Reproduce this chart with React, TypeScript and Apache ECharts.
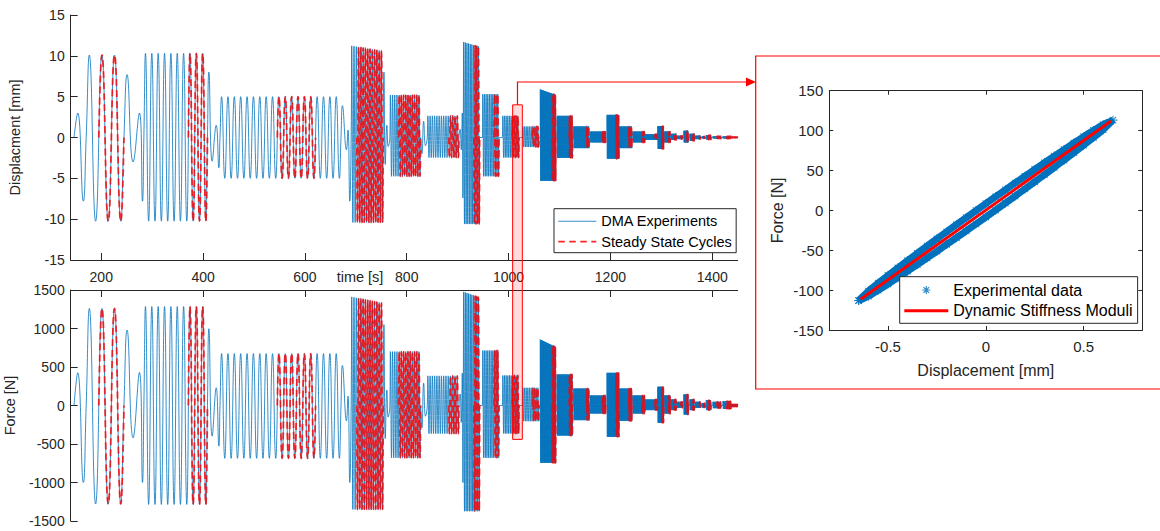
import React, { useEffect, useRef } from 'react';
import * as echarts from 'echarts';

const FONT = '"Liberation Sans", Arial, Helvetica, sans-serif';
const INK = '#262626';
const BLUE = '#0072BD';
const RED = '#ff0000';

// ---------- time axis ----------
const timeMin = 140;
const timeMax = 1450;
const timeTicks = [200, 400, 600, 800, 1000, 1200, 1400];

// ---------- isolated extrema between the test blocks: time [s], displacement [mm], force [N] ----------
const freeT = [146.5, 153.8, 164.8, 250.8, 262.6, 275.0, 281.0, 411.4, 417.9, 425.8, 431.0, 673.7, 681.6, 684.6, 688.1, 755.2, 757.8, 761.0, 763.5, 829.8, 833.2, 836.8, 904.8, 907.0, 909.0, 910.3];
const freeD = [0, 3.0, -7.8, 7.7, -3.0, 3.0, -7.8, 8.0, -2.9, 1.5, -3.7, 3.9, -1.5, 0.9, -7.8, 8.0, -3.3, 1.5, -1.1, -2.0, 2.0, -1.0, 1.0, -1.5, 3.0, -7.4];
const freeF = [0, 425, -1000, 980, -420, 430, -1000, 997, -398, 230, -528, 520, -200, 120, -1000, 1050, -430, 200, -150, -290, 290, -140, 150, -220, 420, -1000];

// ---------- sinusoidal test blocks ----------
const blkStart = [170.4, 283.7, 433.2, 690.8, 766.8, 840.3, 911.0, 948.5, 987.8, 1027.2, 1062.0, 1094.8, 1127.5, 1160.0, 1193.0, 1217.4, 1243.6, 1267.9, 1292.8, 1305.9, 1319.0, 1330.2, 1344.0, 1355.8, 1366.5, 1379.4, 1387.9, 1401.0, 1420.7, 1437.5];
const blkEnd = [244.6, 408.6, 670.9, 753.7, 827.2, 902.6, 943.2, 981.3, 1020.6, 1060.0, 1092.8, 1125.6, 1158.4, 1191.0, 1217.0, 1242.3, 1267.6, 1292.5, 1304.6, 1317.7, 1329.5, 1342.0, 1353.0, 1365.0, 1377.0, 1386.0, 1397.7, 1417.4, 1437.0, 1450.0];
const blkCycles = [3, 10, 19, 14, 14, 14, 10, 10, 10, 10, 24, 24, 24, 24, 20, 20, 20, 20, 12, 12, 10, 10, 10, 10, 10, 8, 8, 12, 12, 14];
const blkDispHi = [10.1, 10.3, 5.0, 10.9, 5.2, 2.65, 11.4, 5.3, 2.65, 1.35, 5.55, 2.65, 1.35, 0.73, 2.77, 1.35, 0.73, 0.4, 1.4, 0.73, 0.45, 0.22, 0.82, 0.45, 0.22, 0.12, 0.3, 0.16, 0.16, 0.06];
const blkDispLo = [-10.25, -10.24, -5.0, -10.4, -4.75, -2.45, -10.6, -4.75, -2.45, -1.17, -5.3, -2.5, -1.3, -0.6, -2.6, -1.3, -0.6, -0.3, -1.4, -0.6, -0.3, -0.2, -0.6, -0.4, -0.2, -0.1, -0.25, -0.14, -0.14, -0.05];
const blkForceHi = [1260, 1285, 675, 1370, 700, 385, 1440, 714, 390, 230, 808, 403, 220, 130, 424, 220, 130, 78, 243, 130, 78, 48, 143, 78, 48, 30, 70, 48, 58, 15];
const blkForceLo = [-1280, -1285, -686, -1350, -680, -365, -1373, -680, -364, -204, -745, -390, -190, -104, -407, -200, -104, -60, -225, -104, -60, -30, -117, -60, -30, -25, -60, -35, -45, -15];
const blkFade = [0, 0, 0, 0.06, 0, 0, 0.05, 0, 0, 0, 0.12, 0, 0, 0, 0, 0, 0, 0, 0, 0, 0, 0, 0, 0, 0, 0, 0, 0, 0, 0];
const blkRedFrom = [195.2, 371.1, 545.8, 702.0, 784.1, 882.6, 931.9, 971.5, 1007.5, 1046.9, 1086.0, 1119.0, 1153.1, 1184.6, 1210.8, 1235.8, 1262.0, 1287.6, 1301.3, 1314.5, 1325.6, 1338.7, 1350.5, 1361.7, 1374.8, 1383.0, 1392.0, 1409.0, 1428.0, 1437.5];
const blkRedTo = [244.6, 408.6, 620.9, 753.7, 827.2, 902.6, 943.2, 981.3, 1020.6, 1060.0, 1092.8, 1125.6, 1158.4, 1191.0, 1217.0, 1242.3, 1267.6, 1292.5, 1304.6, 1317.7, 1329.5, 1342.0, 1353.0, 1365.0, 1377.0, 1386.0, 1397.7, 1417.4, 1437.0, 1450.0];

// ---------- zoomed window (highlight) ----------
const zoomWindow = [1008, 1027];
const zoomDispTop = 4;
const zoomForceBottom = -440;

// ---------- inset: hysteresis loop ----------
const loopX = [-0.65, -0.6, -0.55, -0.5, -0.45, -0.4, -0.35, -0.3, -0.25, -0.2, -0.15, -0.1, -0.05, 0, 0.05, 0.1, 0.15, 0.2, 0.25, 0.3, 0.35, 0.4, 0.45, 0.5, 0.55, 0.6, 0.65, 0.6, 0.55, 0.5, 0.45, 0.4, 0.35, 0.3, 0.25, 0.2, 0.15, 0.1, 0.05, 0, -0.05, -0.1, -0.15, -0.2, -0.25, -0.3, -0.35, -0.4, -0.45, -0.5, -0.55, -0.6, -0.65];
const loopF = [-113.1, -101.2, -91.2, -81.6, -72.2, -63.0, -53.8, -44.7, -35.7, -26.8, -17.9, -9.1, -0.3, 8.4, 17.1, 25.7, 34.3, 42.8, 51.3, 59.7, 68.0, 76.2, 84.4, 92.4, 100.2, 107.6, 113.1, 101.2, 91.2, 81.6, 72.2, 63.0, 53.8, 44.7, 35.7, 26.8, 17.9, 9.1, 0.3, -8.4, -17.1, -25.7, -34.3, -42.8, -51.3, -59.7, -68.0, -76.2, -84.4, -92.4, -100.2, -107.6, -113.1];
const stiffX = [-0.64, 0.64];
const stiffF = [-111.5, 112];
const insetXTicks = [-0.5, 0, 0.5];

const ASTERISK = 'path://M5 0L5 10M0 5L10 5M1.46 1.46L8.54 8.54M8.54 1.46L1.46 8.54';

function extremum(b: number, k: number, m: number, force: boolean): number {
  const hi = force ? blkForceHi[b] : blkDispHi[b];
  const lo = force ? blkForceLo[b] : blkDispLo[b];
  const f = blkFade[b];
  const s = 1 + f / 2 - (f * k) / Math.max(1, m - 1);
  return k % 2 === 0 ? hi * s : lo;
}

function buildSignal(force: boolean): any[] {
  const pts: [number, number][] = [];
  for (let i = 0; i < freeT.length; i++) pts.push([freeT[i], force ? freeF[i] : freeD[i]]);
  for (let b = 0; b < blkStart.length; b++) {
    const ts = blkStart[b];
    const te = blkEnd[b];
    const m = blkCycles[b] * 2;
    const h = (te - ts) / m;
    pts.push([ts, 0]);
    for (let k = 0; k < m; k++) pts.push([ts + (k + 0.5) * h, extremum(b, k, m, force)]);
    pts.push([te, 0]);
  }
  pts.sort((a, c) => a[0] - c[0]);
  return pts;
}

function buildRed(force: boolean): any[] {
  const pts: any[] = [];
  for (let b = 0; b < blkStart.length; b++) {
    const ts = blkStart[b];
    const te = blkEnd[b];
    const m = blkCycles[b] * 2;
    const h = (te - ts) / m;
    const k0 = Math.max(0, Math.round((blkRedFrom[b] - ts) / h));
    const k1 = Math.min(m, Math.round((blkRedTo[b] - ts) / h));
    if (k1 <= k0) continue;
    pts.push([ts + k0 * h, 0]);
    for (let k = k0; k < k1; k++) pts.push([ts + (k + 0.5) * h, extremum(b, k, m, force)]);
    pts.push([ts + k1 * h, 0]);
    pts.push([ts + k1 * h + 0.01, '-']);
  }
  return pts;
}

const numFmt = (v: number) => String(v);

export default function App() {
  const ref = useRef<HTMLDivElement>(null);

  useEffect(() => {
    if (!ref.current) return;
    const chart = echarts.init(ref.current, null, { renderer: 'svg' });

    const tickLabel = { fontFamily: FONT, fontSize: 14, color: INK };
    const nameStyle = { fontFamily: FONT, fontSize: 14.5, color: INK };
    const axLine = { show: true, onZero: false, lineStyle: { color: INK, width: 1 } };
    const tick = (len: number, extra: any = {}) => ({ show: true, inside: true, length: len, lineStyle: { color: INK, width: 1 }, ...extra });

    const blueLine = { color: BLUE, width: 0.8 };
    const redLine = { color: RED, width: 1.8, type: [7, 4] as any, opacity: 0.8 };
    const loopData = loopX.map((x, i) => [x, loopF[i]]);

    const option: any = {
      animation: false,
      backgroundColor: '#ffffff',
      textStyle: { fontFamily: FONT },
      grid: [
        { left: 70.7, top: 15, width: 667, height: 245, outerBoundsMode: 'none' },
        { left: 70.7, top: 290, width: 667, height: 231, outerBoundsMode: 'none' },
        { left: 829.3, top: 90.7, width: 313, height: 239.3, outerBoundsMode: 'none' },
      ],
      xAxis: [
        {
          type: 'value', gridIndex: 0, min: timeMin, max: timeMax, position: 'bottom', splitNumber: 7,
          axisLine: axLine, axisTick: tick(7, { customValues: timeTicks }),
          axisLabel: { show: false }, splitLine: { show: false },
        },
        {
          type: 'value', gridIndex: 1, min: timeMin, max: timeMax, position: 'top', splitNumber: 7,
          axisLine: axLine, axisTick: tick(7, { customValues: timeTicks }),
          axisLabel: { show: true, customValues: timeTicks, margin: 6, formatter: numFmt, ...tickLabel },
          splitLine: { show: false },
        },
        {
          type: 'value', gridIndex: 2, min: -0.8, max: 0.8, position: 'bottom',
          axisLine: axLine, axisTick: tick(4, { customValues: insetXTicks }),
          axisLabel: { show: true, customValues: insetXTicks, margin: 9, formatter: numFmt, ...tickLabel, fontSize: 15 },
          splitLine: { show: false },
          name: 'Displacement [mm]', nameLocation: 'middle', nameGap: 32,
          nameTextStyle: { ...nameStyle, fontSize: 16 },
        },
        {
          type: 'value', gridIndex: 2, min: -0.8, max: 0.8, position: 'top',
          axisLine: axLine, axisTick: tick(4, { customValues: insetXTicks }),
          axisLabel: { show: false }, splitLine: { show: false },
        },
      ],
      yAxis: [
        {
          type: 'value', gridIndex: 0, min: -15, max: 15, interval: 5,
          axisLine: axLine, axisTick: tick(7),
          axisLabel: { margin: 6, formatter: numFmt, ...tickLabel }, splitLine: { show: false },
          name: 'Displacment [mm]', nameLocation: 'middle', nameGap: 48, nameTextStyle: nameStyle,
        },
        {
          type: 'value', gridIndex: 1, min: -1500, max: 1500, interval: 500,
          axisLine: axLine, axisTick: tick(7),
          axisLabel: { margin: 6, formatter: numFmt, ...tickLabel }, splitLine: { show: false },
          name: 'Force [N]', nameLocation: 'middle', nameGap: 48, nameTextStyle: nameStyle,
        },
        {
          type: 'value', gridIndex: 2, min: -150, max: 150, interval: 50, position: 'left',
          axisLine: axLine, axisTick: tick(4),
          axisLabel: { margin: 6, formatter: numFmt, ...tickLabel, fontSize: 15 }, splitLine: { show: false },
          name: 'Force [N]', nameLocation: 'middle', nameGap: 44,
          nameTextStyle: { ...nameStyle, fontSize: 16 },
        },
        {
          type: 'value', gridIndex: 2, min: -150, max: 150, interval: 50, position: 'right',
          axisLine: axLine, axisTick: tick(4),
          axisLabel: { show: false }, splitLine: { show: false },
        },
      ],
      legend: [
        {
          orient: 'vertical', left: 554, top: 208.7,
          padding: [5, 4.3, 3.5, 4.3], itemGap: 5.5, itemWidth: 38, itemHeight: 14,
          backgroundColor: '#ffffff', borderColor: INK, borderWidth: 1, borderRadius: 0,
          selectedMode: false,
          textStyle: { fontFamily: FONT, fontSize: 14.5, color: '#000000' },
          data: [
            { name: 'DMA Experiments', icon: 'path://M0 0H38V1.1H0Z', itemStyle: { color: '#3a8ccc', borderWidth: 0 } },
            {
              name: 'Steady State Cycles',
              icon: 'path://M0 0H6.5V1.7H0Z M11 0H17.5V1.7H11Z M22 0H28.5V1.7H22Z M33 0H38V1.7H33Z',
              itemStyle: { color: 'rgba(255,0,0,0.85)', borderWidth: 0 },
            },
          ],
        },
        {
          orient: 'vertical', left: 899.7, top: 276.7,
          padding: [5.3, 5, 4.6, 4.6], itemGap: 4.7, itemWidth: 44, itemHeight: 8,
          backgroundColor: '#ffffff', borderColor: INK, borderWidth: 1, borderRadius: 0,
          selectedMode: false,
          textStyle: { fontFamily: FONT, fontSize: 16, color: '#000000' },
          data: [
            { name: 'Experimental data', icon: ASTERISK, itemStyle: { color: BLUE, borderColor: BLUE, borderWidth: 1.2 } },
            { name: 'Dynamic Stiffness Moduli', icon: 'path://M0 0H44V3H0Z', itemStyle: { color: RED, borderWidth: 0 } },
          ],
        },
      ],
      series: [
        {
          type: 'line', name: 'DMA Experiments', xAxisIndex: 0, yAxisIndex: 0,
          data: buildSignal(false), symbol: 'none', smooth: 0.5, lineStyle: blueLine, z: 2, silent: true,
        },
        {
          type: 'line', name: 'Steady State Cycles', xAxisIndex: 0, yAxisIndex: 0,
          data: buildRed(false), symbol: 'none', smooth: 0.5, connectNulls: false, lineStyle: redLine, z: 3, silent: true,
        },
        {
          type: 'line', name: 'DMA Experiments', xAxisIndex: 1, yAxisIndex: 1,
          data: buildSignal(true), symbol: 'none', smooth: 0.5, lineStyle: blueLine, z: 2, silent: true,
        },
        {
          type: 'line', name: 'Steady State Cycles', xAxisIndex: 1, yAxisIndex: 1,
          data: buildRed(true), symbol: 'none', smooth: 0.5, connectNulls: false, lineStyle: redLine, z: 3, silent: true,
        },
        {
          type: 'line', name: 'loop band', xAxisIndex: 2, yAxisIndex: 2,
          data: loopData, symbol: 'none', smooth: 0.3,
          lineStyle: { color: BLUE, width: 7 }, z: 2, silent: true,
        },
        {
          type: 'scatter', name: 'Experimental data', xAxisIndex: 2, yAxisIndex: 2,
          data: loopData, symbol: ASTERISK, symbolSize: 9,
          itemStyle: { color: BLUE, borderColor: BLUE, borderWidth: 1.1 }, z: 3, silent: true,
        },
        {
          type: 'line', name: 'Dynamic Stiffness Moduli', xAxisIndex: 2, yAxisIndex: 2,
          data: stiffX.map((x, i) => [x, stiffF[i]]), symbol: 'none',
          lineStyle: { color: RED, width: 3 }, z: 4, silent: true,
        },
      ],
    };

    chart.setOption(option);

    const a = chart.convertToPixel({ xAxisIndex: 0, yAxisIndex: 0 }, [zoomWindow[0], zoomDispTop]) as number[];
    const b = chart.convertToPixel({ xAxisIndex: 0, yAxisIndex: 0 }, [zoomWindow[1], zoomDispTop]) as number[];
    const c = chart.convertToPixel({ xAxisIndex: 1, yAxisIndex: 1 }, [zoomWindow[0], zoomForceBottom]) as number[];
    const cx = (a[0] + b[0]) / 2;
    const elbowY = 82;

    chart.setOption({
      graphic: [
        {
          type: 'rect', z: 10, silent: true,
          shape: { x: a[0], y: a[1], width: b[0] - a[0], height: c[1] - a[1] },
          style: { fill: 'rgba(255,0,0,0.14)', stroke: RED, lineWidth: 1 },
        },
        {
          type: 'polyline', z: 10, silent: true,
          shape: { points: [[cx, a[1]], [cx, elbowY], [747, elbowY]] },
          style: { stroke: RED, lineWidth: 1.2, fill: null },
        },
        {
          type: 'polygon', z: 10, silent: true,
          shape: { points: [[746, elbowY - 4.5], [756, elbowY], [746, elbowY + 4.5]] },
          style: { fill: RED },
        },
        {
          type: 'rect', z: 10, silent: true,
          shape: { x: 755.7, y: 56, width: 420, height: 333 },
          style: { fill: 'none', stroke: RED, lineWidth: 1.2 },
        },
        {
          type: 'text', z: 10, silent: true, x: 360, y: 277,
          style: {
            text: 'time [s]', fontFamily: FONT, fontSize: 14.5, fill: INK,
            align: 'center', verticalAlign: 'middle', textAlign: 'center', textVerticalAlign: 'middle',
          },
        },
      ],
    });

    return () => chart.dispose();
  }, []);

  return (
    <div
      ref={ref}
      style={{ position: 'absolute', left: 0, top: 0, width: 1160, height: 531, background: '#fff' }}
    />
  );
}
